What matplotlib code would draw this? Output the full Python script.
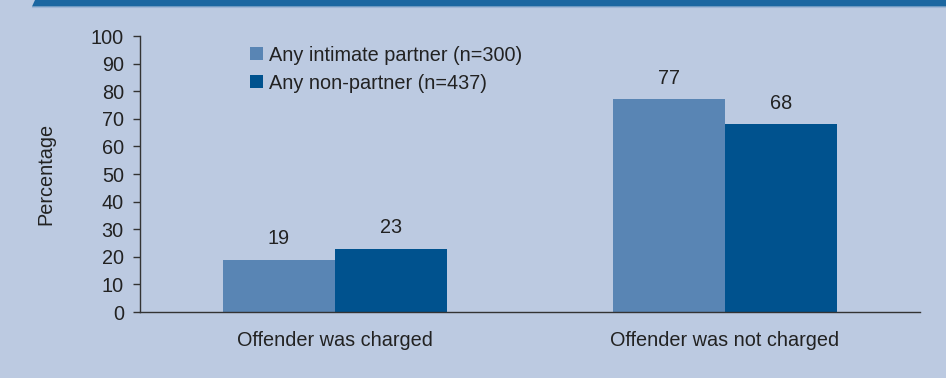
import matplotlib
matplotlib.use("Agg")
import matplotlib.pyplot as plt
import numpy as np
from matplotlib.patches import Polygon

categories = ["Offender was charged", "Offender was not charged"]
series_names = ["Any intimate partner (n=300)", "Any non-partner (n=437)"]
intimate_partner = [19, 77]
non_partner = [23, 68]
y_ticks = [0, 10, 20, 30, 40, 50, 60, 70, 80, 90, 100]

bg = "#bccae1"
light_blue = "#5985b4"
dark_blue = "#00528e"
text_col = "#222222"
fs = 14.3

plt.rcParams["font.family"] = ["Liberation Sans", "DejaVu Sans"]

fig = plt.figure(figsize=(9.46, 3.78), dpi=100, facecolor=bg)

# header strip with slanted left edge
W, H = 946, 378
strip = Polygon([(32 / W, 1 - 6.5 / H), (35 / W, 1.0), (1.0, 1.0), (1.0, 1 - 6.5 / H)],
                closed=True, transform=fig.transFigure, facecolor="#1c67a1",
                edgecolor="none")
fig.patches.append(strip)
fig.add_artist(plt.Line2D([32 / W, 1.0], [1 - 7 / H, 1 - 7 / H],
                          transform=fig.transFigure, color="#9fb6d6", lw=0.8))

ax = fig.add_axes([140 / W, 1 - 312 / H, 780 / W, 276 / H])
ax.set_facecolor(bg)

x = np.arange(len(categories))
w = 112 / 390
b1 = ax.bar(x - w / 2, intimate_partner, w, color=light_blue, label=series_names[0])
b2 = ax.bar(x + w / 2, non_partner, w, color=dark_blue, label=series_names[1])

for bars, vals in ((b1, intimate_partner), (b2, non_partner)):
    for rect, v in zip(bars, vals):
        ax.annotate(f"{v}", (rect.get_x() + rect.get_width() / 2, v),
                    xytext=(0, 8), textcoords="offset points",
                    ha="center", va="bottom", fontsize=fs, color=text_col)

ax.set_xlim(-0.5, 1.5)
ax.set_ylim(0, 100)
ax.set_yticks(y_ticks)
ax.set_xticks(x)
ax.set_xticklabels(categories)
for s in ("top", "right"):
    ax.spines[s].set_visible(False)
for s in ("left", "bottom"):
    ax.spines[s].set_color("#333333")
    ax.spines[s].set_linewidth(1.0)
ax.tick_params(axis="y", direction="out", length=4.7, width=1, color="#333333",
               labelsize=fs, labelcolor=text_col, pad=7)
ax.tick_params(axis="x", length=0, labelsize=fs, labelcolor=text_col, pad=14)
ax.set_ylabel("Percentage", fontsize=fs, color=text_col)
ax.yaxis.set_label_coords(-85 / 780, 0.5)

ax.legend(loc="upper left", bbox_to_anchor=(96 / 780, 1.015), frameon=False,
          fontsize=fs, handlelength=0.65, handleheight=0.65, handletextpad=0.3,
          labelspacing=0.45, borderaxespad=0.3, labelcolor=text_col)

fig.savefig("out.png", dpi=100, facecolor=bg)
